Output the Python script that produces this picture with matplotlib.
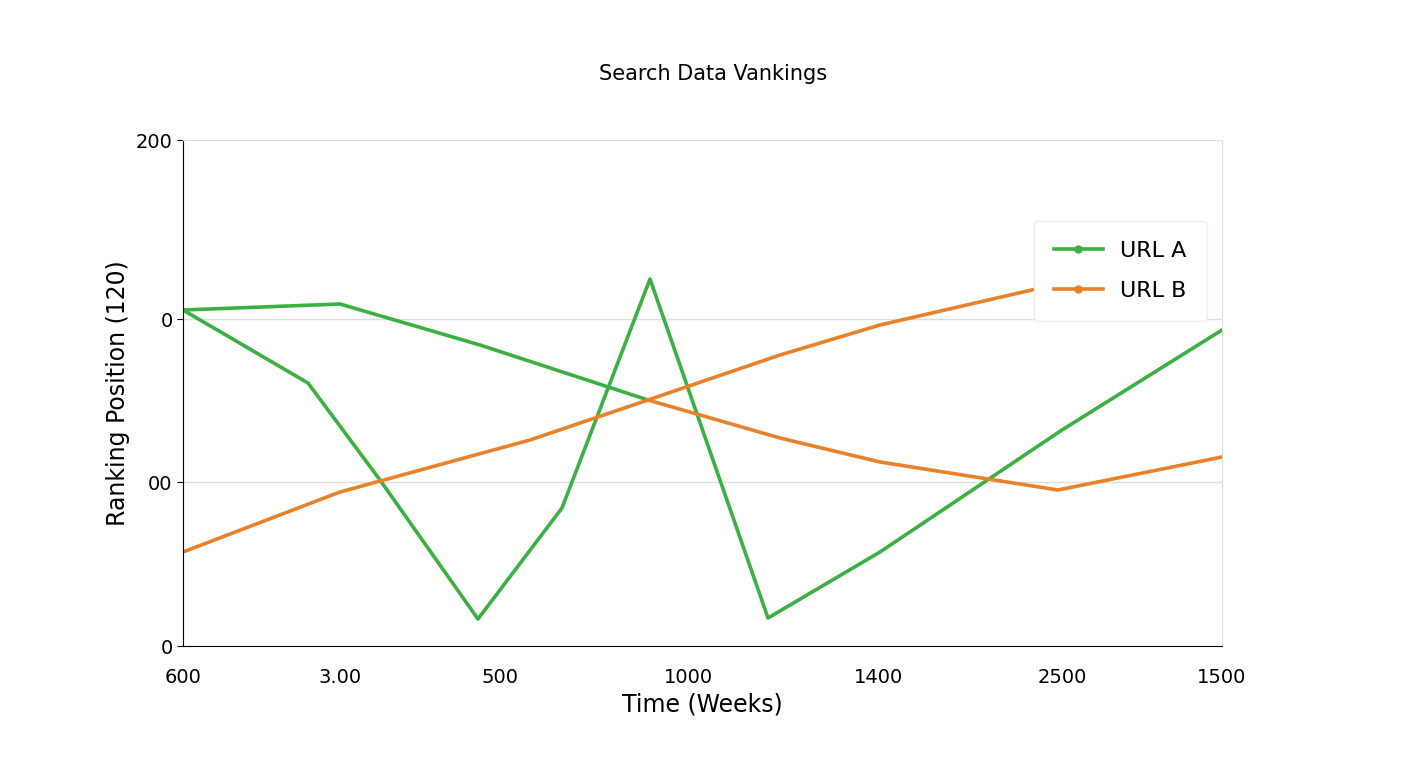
import matplotlib
matplotlib.use("Agg")
import matplotlib.pyplot as plt
from matplotlib.lines import Line2D

x_ticks = [0, 157, 317, 505, 695, 879, 1039]
x_labels = ["600", "3.00", "500", "1000", "1400", "2500", "1500"]
y_ticks = [0, 164, 327, 506]
y_labels = ["0", "00", "0", "200"]

a1_x = [0, 125, 197, 295, 379, 467, 585, 697, 879, 1039]
a1_y = [336, 263, 166, 27, 138, 367, 28, 94, 216, 316]
a2_x = [0, 157, 297, 465]
a2_y = [336, 342, 301, 246]
b1_x = [0, 157, 347, 465, 597, 697, 879]
b1_y = [94, 154, 206, 246, 291, 321, 363]
b2_x = [465, 597, 697, 875, 1039]
b2_y = [246, 208, 184, 156, 189]

green = "#3cb043"
orange = "#e8822a"

fig = plt.figure(figsize=(14.08, 7.68), dpi=100)
ax = fig.add_axes([183/1408, 122/768, 1039/1408, 506/768])
for xs, ys in [(a1_x, a1_y), (a2_x, a2_y)]:
    ax.plot(xs, ys, color=green, lw=2.6)
for xs, ys in [(b1_x, b1_y), (b2_x, b2_y)]:
    ax.plot(xs, ys, color=orange, lw=2.6)
ax.set_xlim(0, 1039)
ax.set_ylim(0, 506)
ax.set_xticks(x_ticks)
ax.set_xticklabels(x_labels, fontsize=14)
ax.set_yticks(y_ticks)
ax.set_yticklabels(y_labels, fontsize=14)
ax.tick_params(axis="x", length=0, pad=16)
ax.tick_params(axis="y", length=4)
for yv in y_ticks[1:3]:
    ax.axhline(yv, color="#dddddd", lw=1, zorder=0)
for s in ["top", "right"]:
    ax.spines[s].set_color("#dddddd")
ax.set_xlabel("Time (Weeks)", fontsize=17, labelpad=4)
ax.set_ylabel("Ranking Position (120)", fontsize=17)
fig.text(713/1408, 1 - 74/768, "Search Data Vankings", ha="center", va="center", fontsize=15)
handles = [Line2D([], [], color=green, lw=2.6, marker="o", ms=5),
           Line2D([], [], color=orange, lw=2.6, marker="o", ms=5)]
ax.legend(handles, ["URL A", "URL B"], loc="upper right", bbox_to_anchor=(0.996, 0.862),
          fontsize=16, framealpha=1, edgecolor="#eeeeee", handlelength=2.2,
          borderpad=0.9, labelspacing=0.9)
fig.savefig("out.png", dpi=100, facecolor="white")
